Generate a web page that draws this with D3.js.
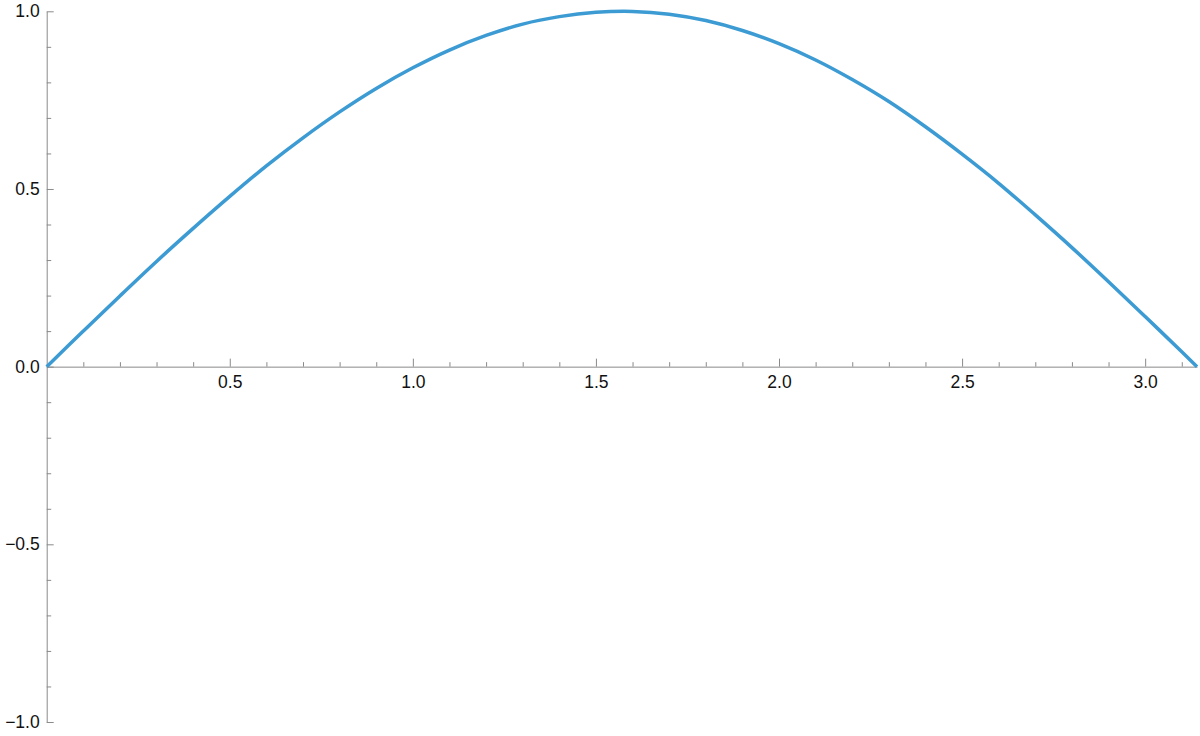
<!DOCTYPE html>
<html>
<head>
<meta charset="utf-8">
<script src="https://cdn.jsdelivr.net/npm/d3@7"></script>
<style>
html,body{margin:0;padding:0;background:#fff;}
svg{display:block;}
svg text{font-family:"Liberation Sans", Arial, sans-serif !important; font-size:17.5px !important;}
</style>
</head>
<body>
<script>
// Curve values (x, y)
const xValues = [0, 0.1, 0.2, 0.3, 0.4, 0.5, 0.6, 0.7, 0.8, 0.9, 1.0, 1.1, 1.2, 1.3, 1.4, 1.5, 1.6, 1.7, 1.8, 1.9, 2.0, 2.1, 2.2, 2.3, 2.4, 2.5, 2.6, 2.7, 2.8, 2.9, 3.0, 3.1, 3.1416];
const yValues = [0, 0.100, 0.199, 0.296, 0.389, 0.479, 0.565, 0.644, 0.717, 0.783, 0.841, 0.891, 0.932, 0.964, 0.985, 0.997, 0.9996, 0.992, 0.974, 0.946, 0.909, 0.863, 0.808, 0.746, 0.675, 0.598, 0.516, 0.427, 0.335, 0.239, 0.141, 0.042, 0];

const xMajorTicks = [0.5, 1.0, 1.5, 2.0, 2.5, 3.0];
const xMinorTicks = [0.1,0.2,0.3,0.4,0.6,0.7,0.8,0.9,1.1,1.2,1.3,1.4,1.6,1.7,1.8,1.9,2.1,2.2,2.3,2.4,2.6,2.7,2.8,2.9,3.1];
const yMajorTicks = [-1.0, -0.5, 0.0, 0.5, 1.0];
const yMinorTicks = [-0.9,-0.8,-0.7,-0.6,-0.4,-0.3,-0.2,-0.1,0.1,0.2,0.3,0.4,0.6,0.7,0.8,0.9];
const xDomain = [0, 3.14159];
const yDomain = [-1, 1];

const W = 1200, H = 736;
const svg = d3.select("body").append("svg").attr("width", W).attr("height", H);

const x = d3.scaleLinear().domain(xDomain).range([46.7, 1197]);
const y = d3.scaleLinear().domain(yDomain).range([722, 11.3]);

const axisColor = "#8a8a8a";
const fmt = d3.format(".1f");

// X axis (at y=0)
const gx = svg.append("g").attr("transform", `translate(0,${y(0)})`);
gx.call(d3.axisBottom(x).tickValues(xMinorTicks).tickSize(-4.5).tickFormat(""));
gx.call(g => g.select(".domain").remove());
const gx2 = svg.append("g").attr("transform", `translate(0,${y(0)})`);
gx2.call(d3.axisBottom(x).tickValues(xMajorTicks).tickSizeInner(-8).tickSizeOuter(0).tickPadding(9).tickFormat(fmt));

// Y axis (at x=0)
const gy = svg.append("g").attr("transform", `translate(${x(0)},0)`);
gy.call(d3.axisLeft(y).tickValues(yMinorTicks).tickSize(-4.5).tickFormat(""));
gy.call(g => g.select(".domain").remove());
const gy2 = svg.append("g").attr("transform", `translate(${x(0)},0)`);
gy2.call(d3.axisLeft(y).tickValues(yMajorTicks).tickSizeInner(-7).tickSizeOuter(0).tickPadding(7).tickFormat(v => fmt(v).replace("-", "\u2212")));

svg.selectAll(".domain, .tick line").attr("stroke", axisColor).attr("stroke-width", 1);
svg.selectAll(".tick text").attr("fill", "#111");

// Curve
const pts = xValues.map((v, i) => [v, yValues[i]]);
const line = d3.line()
  .x(d => x(d[0]))
  .y(d => y(d[1]))
  .curve(d3.curveCatmullRom.alpha(0.5));
svg.append("path")
  .datum(pts)
  .attr("d", line)
  .attr("fill", "none")
  .attr("stroke", "#3d9bd4")
  .attr("stroke-width", 3.5)
  .attr("stroke-linejoin", "round");
</script>
</body>
</html>
